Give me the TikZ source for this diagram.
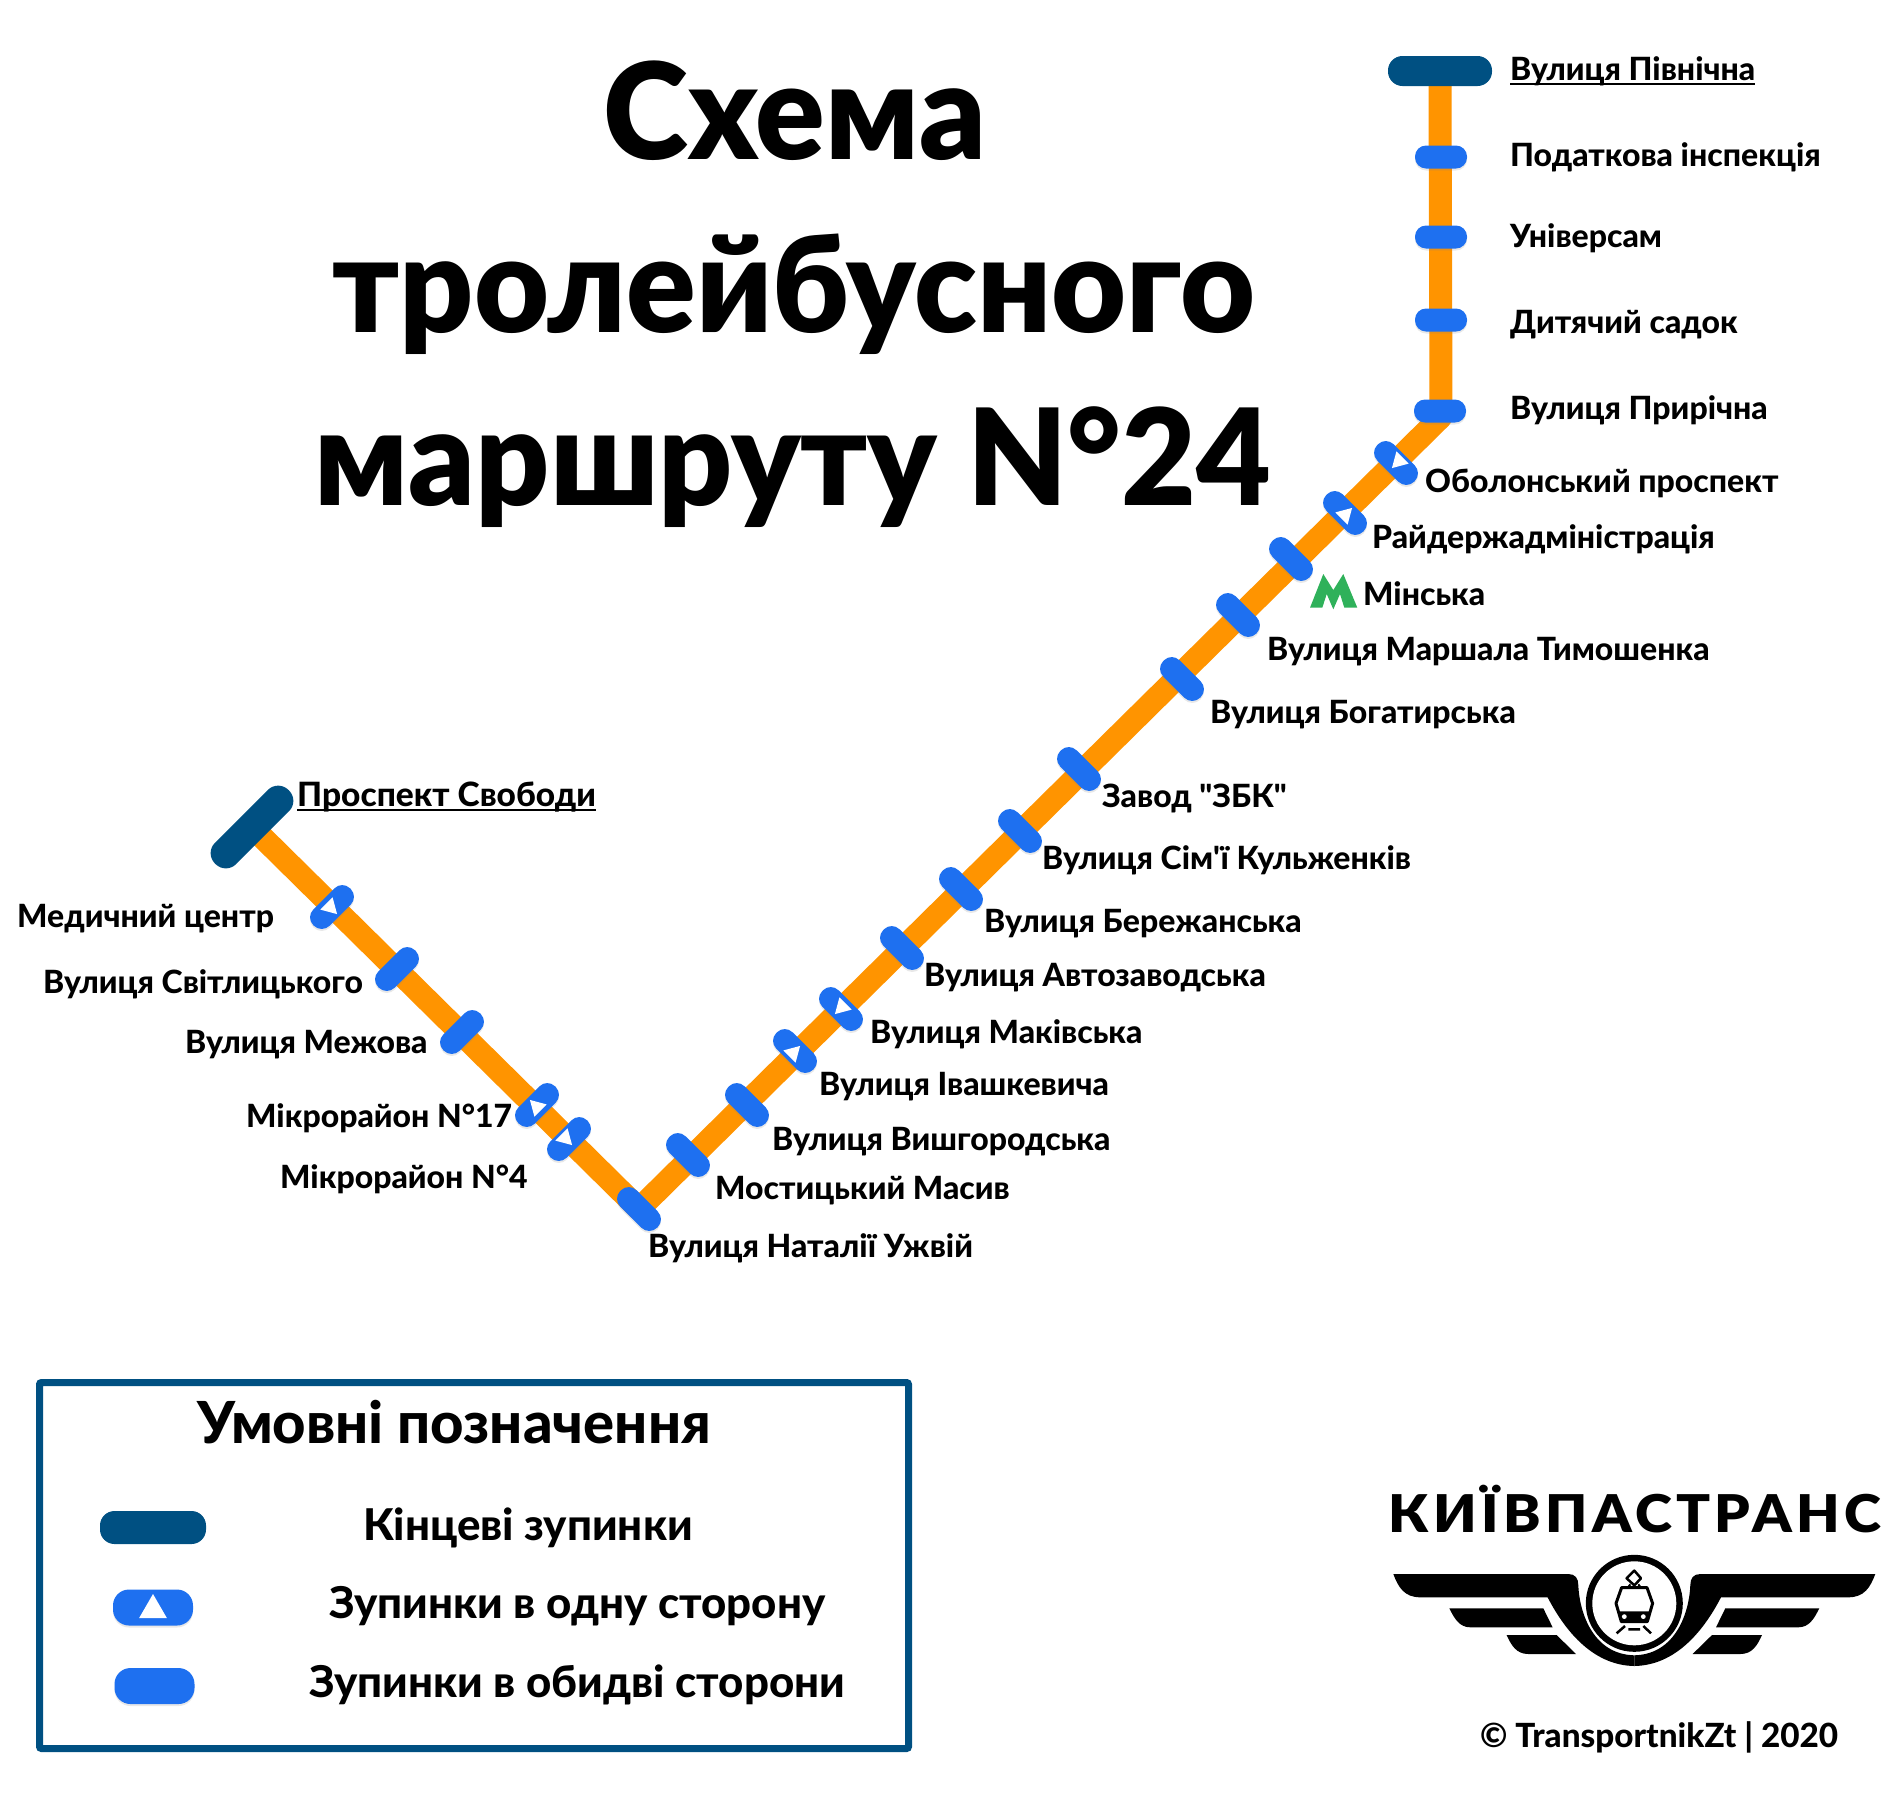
\documentclass[tikz,border=0pt]{standalone}
\usepackage{fontspec}
\usepackage{xcolor}
\usetikzlibrary{shapes.geometric, positioning, shadows, backgrounds}
\setmainfont{Lato}[Ligatures=TeXOff, BoldFont=* Heavy]
\newfontfamily\titlefont{Lato}[Ligatures=TeXOff, UprightFont=* Black]

\definecolor{routeorange}{RGB}{255,148,0}
\definecolor{stopblue}{RGB}{30,112,240}
\definecolor{termblue}{RGB}{0,80,130}
\definecolor{metrogreen}{RGB}{47,177,90}

\newcommand{\termline}[1]{\setbox0\hbox{#1}\rlap{\rule[-4.5pt]{\wd0}{1.7pt}}\box0}
\newcommand{\wingshape}{%
  \fill (-241,-29.3) -- (-66,-29.3) .. controls (-59,-29.3) and (-56,-25) .. (-56,-18)
    .. controls (-55,8) and (-42,51) .. (0,52) -- (0,62.7)
    .. controls (-40,62) and (-68,30) .. (-86.7,-6) -- (-214,-6)
    .. controls (-230,-6) and (-236,-16) .. cycle;
  \fill (-185,5) -- (-91,5) -- (-81.7,24) -- (-164,24) .. controls (-175,24) and (-180,15) .. cycle;
  \fill (-127.7,31.7) -- (-77.7,31.7) -- (-58.3,50.7) -- (-106,50.7) .. controls (-118,50.7) and (-123,42) .. cycle;
}

\tikzset{
  stopbox/.style={rectangle, fill=stopblue, rounded corners=11pt, minimum width=52pt, minimum height=23pt,
    inner sep=0pt, outer sep=0pt, drop shadow={shadow xshift=0pt, shadow yshift=-2pt, opacity=.18}},
  termbox/.style={rectangle, fill=termblue, rounded corners=14.5pt, minimum width=104pt, minimum height=30pt,
    inner sep=0pt, outer sep=0pt},
  oneway/.style={regular polygon, regular polygon sides=3, fill=white, minimum size=20pt, inner sep=0pt},
  routeline/.style={draw=routeorange, line width=23pt, line join=round},
  stoplabel/.style={anchor=base west, inner sep=0pt, font=\bfseries\fontsize{32}{36}\selectfont},
  titleline/.style={anchor=base, inner sep=0pt, font=\titlefont\addfontfeature{FakeStretch=0.965}\fontsize{134}{150}\selectfont},
  legendlabel/.style={anchor=base west, inner sep=0pt, font=\bfseries\fontsize{43.8}{50}\selectfont}
}

\begin{document}
\begin{tikzpicture}[x=1pt, y=-1pt]
\useasboundingbox (0,0) rectangle (1900,1800);

% title
\node[titleline] (title1) at (795,159) {Схема};
\node[titleline] (title2) at (794,332) {тролейбусного};
\node[titleline] (title3) at (793,505) {маршруту N°24};

% stops of the north branch
\node[termbox] (pivnichna) at (1440,71) {};
\node[stopbox] (podatkova) at (1441,157) {};
\node[stopbox] (universam) at (1441,237) {};
\node[stopbox] (sadok) at (1441,320) {};
\node[stopbox] (pririchna) at (1440,411) {};
\coordinate (bend) at (1441,417);

% stops going down to the lowest point
\node[stopbox, rotate=-45] (obolon) at (1396,463) {};
\node[stopbox, rotate=-45] (rda) at (1345,513) {};
\node[stopbox, rotate=-45] (minska) at (1291,559) {};
\node[stopbox, rotate=-45] (marshala) at (1238,615) {};
\node[stopbox, rotate=-45] (bohatyrska) at (1182,679) {};
\node[stopbox, rotate=-45] (zbk) at (1079,769) {};
\node[stopbox, rotate=-45] (kulzhenkiv) at (1020,831) {};
\node[stopbox, rotate=-45] (berezhanska) at (961,889) {};
\node[stopbox, rotate=-45] (avtozavodska) at (902,948) {};
\node[stopbox, rotate=-45] (makiivska) at (841,1009) {};
\node[stopbox, rotate=-45] (ivashkevycha) at (795,1051) {};
\node[stopbox, rotate=-45] (vyshhorodska) at (747,1105) {};
\node[stopbox, rotate=-45] (mostytskyi) at (688,1155) {};
\node[stopbox, rotate=-45] (uzhvii) at (639,1209) {};

% stops of the west branch
\node[termbox, rotate=45] (svoboda) at (252,827) {};
\node[stopbox, rotate=45] (medcentr) at (332,907) {};
\node[stopbox, rotate=45] (svitlytskoho) at (397,969) {};
\node[stopbox, rotate=45] (mezhova) at (462,1032) {};
\node[stopbox, rotate=45] (mikro17) at (537,1105) {};
\node[stopbox, rotate=45] (mikro4) at (569,1139) {};

\begin{scope}[on background layer]
\draw[routeline] (pivnichna.center) -- (bend) -- (uzhvii.center) -- (svoboda.center);
\end{scope}

% one way marks
\node[oneway, rotate=135] (markobolon) at (1399,461) {};
\node[oneway, rotate=-45] (markrda) at (1345,515) {};
\node[oneway, rotate=135] (markmakiivska) at (842,1007) {};
\node[oneway, rotate=-45] (markivashkevycha) at (793,1053) {};
\node[oneway, rotate=-135] (markmedcentr) at (330,907) {};
\node[oneway, rotate=45] (markmikro17) at (537,1107) {};
\node[oneway, rotate=-135] (markmikro4) at (565,1138) {};

% metro sign
\fill[metrogreen] (1310,607.7) -- (1323.3,574) -- (1333.3,590) -- (1343.3,574) -- (1357.3,607.7) -- (1344.3,607.7)
  -- (1340,594) -- (1333.3,609.3) -- (1326.7,594) -- (1322.3,607.7) -- cycle;

% labels
\node[stoplabel] (lpivnichna) at (1510,80) {\termline{Вулиця Північна}};
\node[stoplabel] (lpodatkova) at (1510,166) {Податкова інспекція};
\node[stoplabel] (luniversam) at (1510,247) {Універсам};
\node[stoplabel] (lsadok) at (1510,333) {Дитячий садок};
\node[stoplabel] (lpririchna) at (1510,419) {Вулиця Прирічна};
\node[stoplabel] (lobolon) at (1425,492) {Оболонський проспект};
\node[stoplabel] (lrda) at (1372,548) {Райдержадміністрація};
\node[stoplabel] (lminska) at (1363,605) {Мінська};
\node[stoplabel] (lmarshala) at (1267,660) {Вулиця Маршала Тимошенка};
\node[stoplabel] (lbohatyrska) at (1210,723) {Вулиця Богатирська};
\node[stoplabel] (lzbk) at (1102,807) {Завод "ЗБК"};
\node[stoplabel] (lkulzhenkiv) at (1042,869) {Вулиця Сім'ї Кульженків};
\node[stoplabel] (lberezhanska) at (984,932) {Вулиця Бережанська};
\node[stoplabel] (lavtozavodska) at (924,986) {Вулиця Автозаводська};
\node[stoplabel] (lmakiivska) at (870,1043) {Вулиця Маківська};
\node[stoplabel] (livashkevycha) at (819,1095) {Вулиця Івашкевича};
\node[stoplabel] (lvyshhorodska) at (772,1150) {Вулиця Вишгородська};
\node[stoplabel] (lmostytskyi) at (715,1199) {Мостицький Масив};
\node[stoplabel] (luzhvii) at (648,1257) {Вулиця Наталії Ужвій};
\node[stoplabel, font=\bfseries\fontsize{33.5}{36}\selectfont] (lsvoboda) at (297,806) {\termline{Проспект Свободи}};
\node[stoplabel] (lmedcentr) at (17,927) {Медичний центр};
\node[stoplabel] (lsvitlytskoho) at (43,993) {Вулиця Світлицького};
\node[stoplabel] (lmezhova) at (185,1053) {Вулиця Межова};
\node[stoplabel] (lmikro17) at (246,1127) {Мікрорайон N°17};
\node[stoplabel] (lmikro4) at (280,1188) {Мікрорайон N°4};

% legend
\node[draw=termblue, line width=7pt, rounded corners=2pt, minimum width=869pt, minimum height=366pt, inner sep=0pt] (legend) at (474,1565.5) {};
\node[anchor=base, inner sep=0pt, font=\bfseries\fontsize{58}{66}\selectfont] (legendtitle) at (454,1443) {Умовні позначення};
\node[termbox, minimum width=106pt, minimum height=33pt] (legendterm) at (153,1527.5) {};
\node[stopbox, minimum width=80pt, minimum height=36pt, rounded corners=16pt] (legendoneway) at (153,1607.5) {};
\node[oneway, minimum size=32pt] (legendmark) at (153,1610) {};
\node[stopbox, minimum width=80pt, minimum height=36pt, rounded corners=16pt] (legendboth) at (154.5,1686) {};
\node[legendlabel] (legendtermtext) at (363,1540) {Кінцеві зупинки};
\node[legendlabel] (legendonewaytext) at (329,1618) {Зупинки в одну сторону};
\node[legendlabel] (legendbothtext) at (309,1697) {Зупинки в обидві сторони};

% logo
\node[anchor=base, inner sep=0pt, font=\titlefont\addfontfeature{FakeStretch=1.08, LetterSpace=8.4}\fontsize{52}{56}\selectfont] (logotext) at (1635,1532) {КИЇВПАСТРАНС};
\begin{scope}[shift={(1634.3,1603.3)}]
\wingshape
\begin{scope}[xscale=-1]
\wingshape
\end{scope}
\fill (0,0) circle (48.5);
\fill[white] (0,0) circle (42);
\draw[line width=2.5pt, line join=round] (0,-32.7) -- (6.7,-25) -- (0,-18) -- (-7.7,-25) -- cycle;
\draw[line width=2pt] (-4,-19) -- (-7,-15) (4,-19) -- (7,-15);
\draw[line width=3pt, line join=round] (-12.7,-15.7) -- (12.7,-15.7) -- (18.3,0) -- (13,18.3) -- (-13,18.3) -- (-18.3,0) -- cycle;
\fill (-15.5,8) -- (15.5,8) -- (13,18.3) -- (-13,18.3) -- cycle;
\fill[white] (-10,13.3) circle (2.4) (9,13.3) circle (2.4);
\draw[line width=2.5pt] (-9.3,22.7) -- (-17.7,30) (9,22.7) -- (16.7,30) (-6,26) -- (5.7,26);
\end{scope}

\node[anchor=base west, inner sep=0pt, font=\bfseries\fontsize{33.3}{38}\selectfont] (copyright) at (1480,1747) {© TransportnikZt | 2020};
\end{tikzpicture}
\end{document}
